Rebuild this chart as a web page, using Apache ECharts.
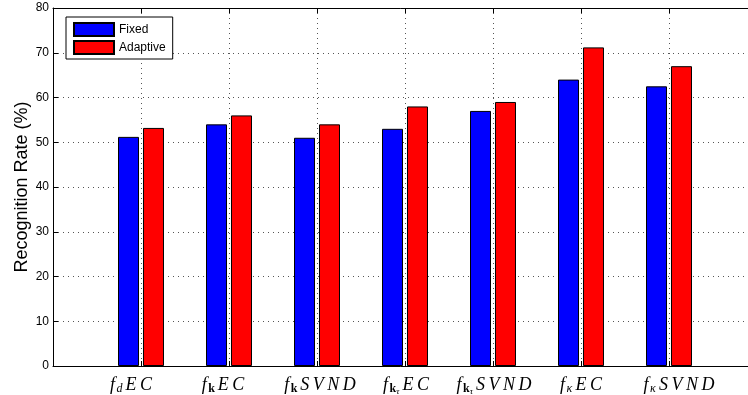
<!DOCTYPE html>
<html>
<head>
<meta charset="utf-8">
<script src="https://cdn.jsdelivr.net/npm/echarts@6/dist/echarts.min.js"></script>
<style>html,body{margin:0;padding:0;background:#fff}#c{width:748px;height:395px}</style>
</head>
<body>
<div id="c"></div>
<script>
const categories = ['f_d EC', 'f_k EC', 'f_k SVND', 'f_kτ EC', 'f_kτ SVND', 'f_κ EC', 'f_κ SVND'];
const fixedValues = [51.2, 54.0, 51.0, 53.0, 57.0, 64.0, 62.5];
const adaptiveValues = [53.2, 56.0, 54.0, 58.0, 59.0, 71.2, 67.0];
const seriesNames = ['Fixed', 'Adaptive'];
const yTicks = [0, 10, 20, 30, 40, 50, 60, 70, 80];

// layout: horizontal nudges of the tick labels (px), as placed in the original figure
const labelNudge = [-10, -6, 3, 1, 1, 0, 10];

// padded category axis: empty slot at x=0 and x=8 (axis limits)
const axisCats = [''].concat(categories, ['']);

function richLabel(s) {
  if (!s) return '';
  const idx = categories.indexOf(s);
  const nudge = idx >= 0 ? labelNudge[idx] : 0;
  const parts = s.split(' ');
  const head = parts[0];
  const tail = parts[1];
  const sub = head.split('_')[1];
  let subPart = '';
  if (sub[0] === 'k') {
    subPart = '{subb|k}';
    if (sub.length > 1) subPart += '{subsub|' + sub.slice(1) + '}';
  } else {
    subPart = '{sub|' + sub + '}';
  }
  const letters = tail.split('').map((ch, i) => '{' + (i === 0 ? 'it0' : 'it') + '|' + ch + '}').join('');
  let out = '{itf|f}' + subPart + letters;
  if (nudge > 0) out = '{lp' + nudge + '|\u200b}' + out;
  if (nudge < 0) out = out + '{rp' + (-nudge) + '|\u200b}';
  return out;
}

const serif = 'Liberation Serif';
const rich = {
  itf: {fontFamily: serif, fontStyle: 'italic', fontSize: 18, color: '#000', verticalAlign: 'top', padding: [0, 1.5, 0, 0]},
  it0: {fontFamily: serif, fontStyle: 'italic', fontSize: 18, color: '#000', verticalAlign: 'top', padding: [0, 0, 0, 3]},
  it: {fontFamily: serif, fontStyle: 'italic', fontSize: 18, color: '#000', verticalAlign: 'top', padding: [0, 0, 0, 3.5]},
  sub: {fontFamily: serif, fontStyle: 'italic', fontSize: 12, color: '#000', verticalAlign: 'top', padding: [7, 0, 0, 0]},
  subb: {fontFamily: serif, fontWeight: 'bold', fontSize: 12, color: '#000', verticalAlign: 'top', padding: [7, 0, 0, 0]},
  subsub: {fontFamily: serif, fontStyle: 'italic', fontSize: 9, color: '#000', verticalAlign: 'top', padding: [11, 0, 0, 0]}
};
for (let n = 1; n <= 20; n++) {
  rich['lp' + n] = {fontSize: 1, width: 0, padding: [0, 0, 0, 2 * n], verticalAlign: 'top'};
  rich['rp' + n] = {fontSize: 1, width: 0, padding: [0, 2 * n, 0, 0], verticalAlign: 'top'};
}

const chart = echarts.init(document.getElementById('c'), null, {renderer: 'canvas'});
chart.setOption({
  animation: false,
  backgroundColor: '#fff',
  textStyle: {fontFamily: 'Liberation Sans'},
  grid: {left: 53, top: 8, width: 704, height: 358, containLabel: false, outerBoundsMode: 'none'},
  legend: {
    data: seriesNames,
    orient: 'vertical',
    left: 66, top: 17,
    itemWidth: 40, itemHeight: 13, itemGap: 3,
    padding: [5, 7, 4, 7],
    borderColor: '#000', borderWidth: 1,
    backgroundColor: '#fff',
    icon: 'rect',
    textStyle: {fontFamily: 'Liberation Sans', fontSize: 12, color: '#000', lineHeight: 13}
  },
  xAxis: [{
    type: 'category',
    data: axisCats,
    boundaryGap: false,
    axisLine: {lineStyle: {color: '#000', width: 1}},
    axisTick: {show: true, inside: true, length: 5, lineStyle: {color: '#000'}},
    axisLabel: {
      interval: 0, margin: 10, color: '#000',
      formatter: v => richLabel(v),
      rich: rich
    },
    splitLine: {show: true, lineStyle: {color: '#555', type: [1, 4], width: 1}}
  }, {
    type: 'category',
    data: axisCats,
    boundaryGap: false,
    position: 'top',
    axisLine: {show: true, lineStyle: {color: '#000', width: 1}},
    axisTick: {show: true, inside: true, length: 5, lineStyle: {color: '#000'}},
    axisLabel: {show: false},
    splitLine: {show: false}
  }],
  yAxis: {
    type: 'value',
    min: 0, max: 80, interval: 10,
    name: 'Recognition Rate (%)',
    nameLocation: 'middle',
    nameGap: 22,
    nameMoveOverlap: false,
    nameTextStyle: {fontFamily: 'Liberation Sans', fontSize: 18, color: '#000'},
    axisLine: {show: true, lineStyle: {color: '#000', width: 1}},
    axisTick: {show: true, inside: true, length: 5, lineStyle: {color: '#000'}},
    axisLabel: {
      color: '#000', fontSize: 12, fontFamily: 'Liberation Sans', margin: 4,
      formatter: v => (yTicks.indexOf(v) >= 0 ? String(v) : '')
    },
    splitLine: {show: true, lineStyle: {color: '#555', type: [1, 4], width: 1}}
  },
  series: [{
    name: seriesNames[0],
    type: 'bar',
    data: [null].concat(fixedValues, [null]),
    barWidth: 21,
    barGap: '19%',
    itemStyle: {color: '#0000ff', borderColor: '#000', borderWidth: 1}
  }, {
    name: seriesNames[1],
    type: 'bar',
    data: [null].concat(adaptiveValues, [null]),
    barWidth: 21,
    barGap: '19%',
    itemStyle: {color: '#ff0000', borderColor: '#000', borderWidth: 1}
  }]
});
</script>
</body>
</html>
